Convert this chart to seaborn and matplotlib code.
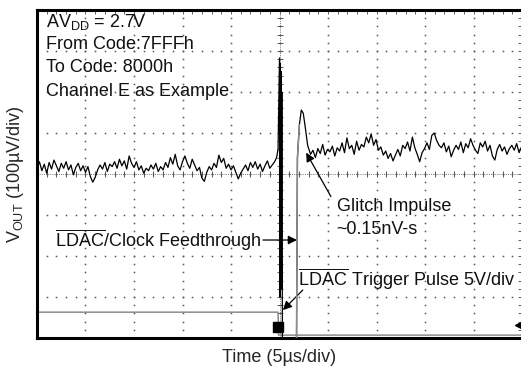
import numpy as np
import pandas as pd
import seaborn as sns
from matplotlib import pyplot as plt

# scope trace: time in us, level in uV (100 uV/div)
SAMPLE_STEP = 0.25

pre_start = -25.0
pre_noise = [
    14, 30, 8, 24, 2, 28, 12, 34, 20, 6, 26, 14, 30, 10, 22, -2, 16, 26, 8, 20,
    4, 18, -6, -20, -8, 10, 22, 12, 28, 6, 24, 18, 30, 14, 36,
    20, 32, 12, 44, 26, 16, 30, 10, 20, 2, 14, 8, 22, 12, 26, 6, 18, 10, 28, 16,
    40, 24, 48, 20, 10, 30, 44, 26, 14, 36, 22, 8, 16, -10, -18,
    4, 18, 10, 26, 16, 46, 28, 38, 14, 24, 10, 20, 4, -12, 2, 12, 22, 8, 28, 16,
    30, 12, 24, 6, 20, 32, 14, 22,
]

glitch_t = [-0.5, -0.3, -0.15, 0.0, 0.04, 0.08, 0.12, 0.16, 0.2, 0.24, 0.3,
            1.75, 1.85, 2.05, 2.25, 2.45, 2.65, 2.9]
glitch_v = [30, 40, 60, 283, -300, 270, -260, 250, -280, 200, -420,
            -420, 40, 120, 156, 148, 115, 70]
rise_t = [1.75, 1.85, 2.05]
rise_v = [-420, 40, 120]

post_start = 3.2
post_noise = [
    48, 58, 40, 62, 50, 72, 46, 60, 54, 68, 44, 64, 56, 76, 52, 88, 62, 70, 48, 80,
    58, 72, 66, 90, 76, 98, 70, 84, 58, 66, 46, 56, 38, 50, 32, 46, 60, 44, 70, 62,
    78, 56, 90, 64, 48, 30, 52, 62, 76, 60, 94, 100, 82, 70, 64, 76, 54, 68, 42, 58,
    70, 60, 78, 52, 74, 64, 86, 70, 58, 50, 76, 66, 80, 56, 70, 44, 34, 60, 72, 56,
    66, 48, 62, 70, 58, 74, 52, 66,
]

# LDAC trigger pulse (5V/div), drawn in screen units
trig_t = [-25.0, -0.15, -0.1, 25.0]
trig_v = [-337, -337, -393, -393]

sns.set_style("white")
plt.rcParams["font.family"] = ["Liberation Sans", "DejaVu Sans"]
plt.rcParams["mathtext.fontset"] = "custom"
plt.rcParams["mathtext.rm"] = "Liberation Sans"
plt.rcParams["mathtext.it"] = "Liberation Sans:italic"

t_pre = pre_start + SAMPLE_STEP * np.arange(len(pre_noise))
t_post = post_start + SAMPLE_STEP * np.arange(len(post_noise))
trace = pd.DataFrame({
    "t": np.concatenate([t_pre, glitch_t, t_post]),
    "v": np.concatenate([pre_noise, glitch_v, post_noise]),
})
pulse = pd.DataFrame({"t": trig_t, "v": trig_v})
rise = pd.DataFrame({"t": rise_t, "v": rise_v})

fig = plt.figure(figsize=(5.21, 3.72), dpi=100)
ax = fig.add_axes([37 / 521, 34 / 372, 485 / 521, 328 / 372])

# graticule: dots at minor steps along each major line
xmaj = np.arange(-25, 26, 5)
ymaj = np.arange(-400, 401, 100)
xmin = np.arange(-25, 25.1, 1)
ymin = np.arange(-400, 400.1, 20)
for x in xmaj[1:-1]:
    ax.plot(np.full_like(ymin, x, dtype=float), ymin, ls="none", marker="s", ms=1.1,
            color="#555555", mew=0, zorder=1)
for y in ymaj[1:-1]:
    ax.plot(xmin, np.full_like(xmin, y, dtype=float), ls="none", marker="s", ms=1.1,
            color="#555555", mew=0, zorder=1)
ax.axhline(0, color="#777777", lw=0.7, ls=(0, (1, 1.2)), zorder=1)
ax.axvline(0, color="#777777", lw=0.7, ls=(0, (1, 1.2)), zorder=1)
ax.plot(xmin, np.zeros(len(xmin)), ls="none", marker="|", ms=4,
        color="#555555", mew=0.7, zorder=1)
ax.plot(np.zeros(len(ymin)), ymin, ls="none", marker="_", ms=4, color="#555555",
        mew=0.7, zorder=1)

sns.lineplot(data=pulse, x="t", y="v", color="#8c8c8c", lw=1.1, estimator=None,
             sort=False, ax=ax, zorder=2)
sns.lineplot(data=trace, x="t", y="v", color="black", lw=0.9, estimator=None,
             sort=False, ax=ax, zorder=3)
sns.lineplot(data=rise, x="t", y="v", color="#8c8c8c", lw=1.1, estimator=None,
             sort=False, ax=ax, zorder=3.5)
ax.plot([-0.15], [-372], marker="s", ms=7, color="black", zorder=4)
ax.plot([24.6], [-368], marker="<", ms=5, color="black", zorder=4)

ax.set_xlim(-25, 25)
ax.set_ylim(-400, 400)
ax.set_xticks(xmaj)
ax.set_yticks(ymaj)
ax.set_xticks(xmin, minor=True)
ax.set_yticks(ymin, minor=True)
ax.tick_params(which="both", direction="in", length=3, width=0.6, colors="#444444",
               top=True, right=True, labelbottom=False, labelleft=False)
for side in ["top", "left", "bottom"]:
    ax.spines[side].set_linewidth(2.2)
    ax.spines[side].set_color("black")
ax.spines["right"].set_visible(False)

ax.set_xlabel("Time (5µs/div)", fontsize=13, labelpad=8)
ax.set_ylabel(r"V$_{\mathrm{OUT}}$ (100µV/div)", fontsize=13, labelpad=8)

txt = dict(fontsize=13, va="center", ha="left", color="#111111")
ax.text(-24.1, 371, r"AV$_{\mathrm{DD}}$ = 2.7V", **txt)
ax.text(-24.1, 315, "From Code:7FFFh", **txt)
ax.text(-24.1, 259, "To Code: 8000h", **txt)
ax.text(-24.1, 202, "Channel E as Example", **txt)

arrow = dict(arrowstyle="-|>", color="black", lw=0.9, mutation_scale=13, shrinkA=0, shrinkB=0)
ax.annotate("", xy=(2.75, 52), xytext=(5.3, -55), arrowprops=arrow)
ax.text(5.9, -80, "Glitch Impulse", **txt)
ax.text(5.9, -135, "~0.15nV-s", **txt)

ax.annotate("", xy=(1.8, -161), xytext=(-1.7, -161), arrowprops=arrow)
ax.text(-23.1, -161, r"$\overline{\mathrm{LDAC}}$/Clock Feedthrough", **txt)

ax.annotate("", xy=(0.35, -332), xytext=(2.4, -283), arrowprops=arrow)
ax.text(1.9, -256, r"$\overline{\mathrm{LDAC}}$ Trigger Pulse 5V/div", **txt)

fig.savefig("out.png", dpi=100)
